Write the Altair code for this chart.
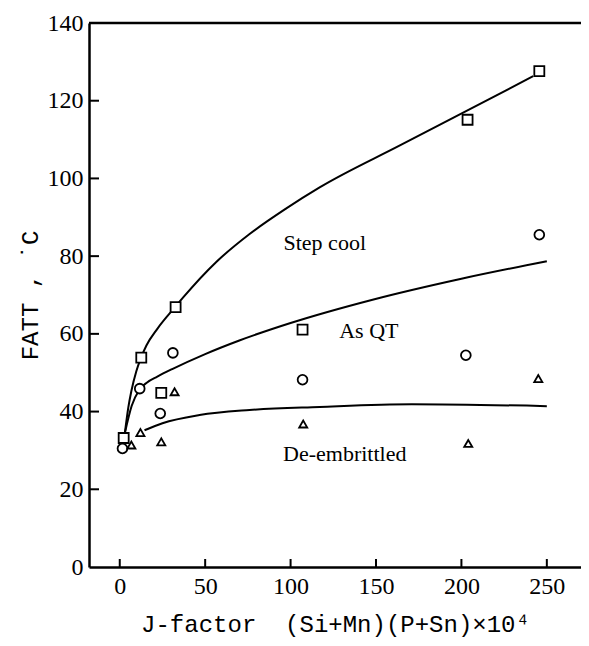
import altair as alt
import pandas as pd

# ---- measured data points ----
step_x = [2.3, 12.6, 24.3, 32.7, 107, 203.6, 245.6]
step_y = [33.2, 53.9, 44.8, 66.9, 61.1, 115.1, 127.6]

asqt_x = [1.6, 11.7, 23.7, 31.1, 107, 202.6, 245.6]
asqt_y = [30.5, 45.9, 39.5, 55.1, 48.2, 54.5, 85.5]

demb_x = [6.8, 12.1, 24.3, 32.1, 107.4, 204, 245]
demb_y = [31.4, 34.6, 32.2, 45.1, 36.8, 31.8, 48.5]

# ---- fitted curves ----
step_cx = [3.0, 5.0, 6.8, 9.7, 12.6, 15.6, 22, 33, 37, 56.5, 76, 97.5, 117, 164, 203, 242]
step_cy = [34.5, 41.0, 45.3, 50.4, 54, 57, 61.3, 67.2, 69.3, 78.5, 85.7, 92.3, 97.7, 108.5, 117.4, 126.3]

asqt_cx = [3.0, 7, 11.3, 16, 22, 31, 50, 70, 100, 148, 200, 250]
asqt_cy = [34.5, 41.5, 45.5, 47.5, 49.0, 51.0, 54.8, 58.3, 62.8, 68.8, 74.2, 78.7]

demb_cx = [14.5, 25, 46.7, 76, 117, 171, 250]
demb_cy = [35.2, 37.0, 39.1, 40.4, 41.2, 41.9, 41.4]

labels = ["Step cool", "As QT", "De-embrittled"]
label_x = [120, 145.8, 131.7]
label_y = [83.4, 60.7, 29.1]

x_ticks = [0, 50, 100, 150, 200, 250]
y_ticks = [0, 20, 40, 60, 80, 100, 120, 140]

X_DOMAIN = [-18, 270]
Y_DOMAIN = [0, 140]
W, H = 492, 544

xscale = alt.Scale(domain=X_DOMAIN, nice=False, zero=False)
yscale = alt.Scale(domain=Y_DOMAIN, nice=False, zero=False)

xaxis = alt.Axis(
    values=x_ticks, grid=False, ticks=False, tickSize=0,
    labelFont="Liberation Serif", labelFontSize=24, labelColor="black",
    labelPadding=7, domainColor="black", domainWidth=2.5,
    title="J-factor\u00a0\u00a0(Si+Mn)(P+Sn)×10⁴",
    titleFont="Liberation Mono", titleFontSize=24, titleFontWeight="normal",
    titleColor="black", titleY=57, titleBaseline="middle",
)
yaxis = alt.Axis(
    values=y_ticks, grid=False, ticks=False, tickSize=0,
    labelFont="Liberation Serif", labelFontSize=24, labelColor="black",
    labelPadding=6, domainColor="black", domainWidth=2.5,
    title="FATT , ˙C",
    titleFont="Liberation Mono", titleFontSize=24, titleFontWeight="normal",
    titleColor="black", titleX=-59, titleY=H / 2, titleAngle=270,
    titleBaseline="middle", titleAlign="center",
)


def curve(cx, cy):
    df = pd.DataFrame({"x": cx, "y": cy})
    return alt.Chart(df).mark_line(
        interpolate="monotone", color="black", strokeWidth=2
    ).encode(
        x=alt.X("x:Q", scale=xscale, axis=xaxis),
        y=alt.Y("y:Q", scale=yscale, axis=yaxis),
    )


def pts(px, py, shape, size):
    df = pd.DataFrame({"x": px, "y": py})
    return alt.Chart(df).mark_point(
        shape=shape, filled=True, fill="white", stroke="black",
        strokeWidth=1.8, size=size, opacity=1
    ).encode(
        x=alt.X("x:Q", scale=xscale, axis=xaxis),
        y=alt.Y("y:Q", scale=yscale, axis=yaxis),
    )


ytick_df = pd.DataFrame({"v": y_ticks[1:-1]})
xtick_df = pd.DataFrame({"v": x_ticks})

yticks = alt.Chart(ytick_df).mark_rule(color="black", strokeWidth=2).encode(
    y=alt.Y("v:Q", scale=yscale, axis=yaxis),
    x=alt.value(0), x2=alt.value(10),
)
xticks = alt.Chart(xtick_df).mark_rule(color="black", strokeWidth=2).encode(
    x=alt.X("v:Q", scale=xscale, axis=xaxis),
    y=alt.value(H - 8), y2=alt.value(H),
)
top_border = alt.Chart(pd.DataFrame({"a": [0]})).mark_rule(
    color="black", strokeWidth=2.5
).encode(y=alt.datum(140, scale=yscale))

lab_df = pd.DataFrame({"t": labels, "x": label_x, "y": label_y})
texts = alt.Chart(lab_df).mark_text(
    font="Liberation Serif", fontSize=22, align="center", baseline="middle",
    color="black"
).encode(
    x=alt.X("x:Q", scale=xscale, axis=xaxis),
    y=alt.Y("y:Q", scale=yscale, axis=yaxis),
    text="t:N",
)

chart = alt.layer(
    curve(step_cx, step_cy),
    curve(asqt_cx, asqt_cy),
    curve(demb_cx, demb_cy),
    pts(step_x, step_y, "square", 100),
    pts(asqt_x, asqt_y, "circle", 95),
    pts(demb_x, demb_y, "triangle-up", 65),
    yticks, xticks, top_border, texts,
).properties(
    width=W, height=H,
    autosize=alt.AutoSizeParams(type="none"),
    padding={"left": 81, "top": 15, "right": 0, "bottom": 71},
    background="white",
).configure_view(stroke=None)

chart.save("out.html", embed_options={"renderer": "svg", "actions": False})
